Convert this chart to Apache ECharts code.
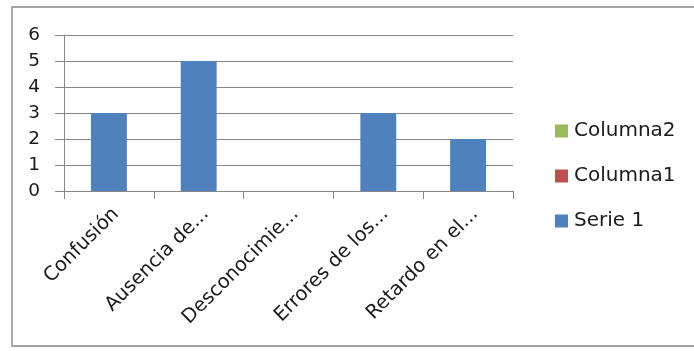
<!DOCTYPE html>
<html>
<head>
<meta charset="utf-8">
<script src="https://cdn.jsdelivr.net/npm/echarts@6/dist/echarts.min.js"></script>
<style>
  html, body { margin: 0; padding: 0; background: #fff; }
  #chart { width: 694px; height: 351px; }
</style>
</head>
<body>
<div id="chart"></div>
<script>
// Categories (labels as shown, already shortened)
const categories = ['Confusión', 'Ausencia de...', 'Desconocimie...', 'Errores de los...', 'Retardo en el...'];
// Series values
const serie1 = [3, 5, 0, 3, 2];
const columna1 = [null, null, null, null, null];
const columna2 = [null, null, null, null, null];
// Value-axis ticks
const yTicks = [0, 1, 2, 3, 4, 5, 6];

const FONT = 'DejaVu Sans';
const TEXT = '#1a1a1a';
const GRID = '#878787';

const chart = echarts.init(document.getElementById('chart'), null, { renderer: 'canvas' });

chart.setOption({
  animation: false,
  backgroundColor: '#ffffff',
  textStyle: { fontFamily: FONT },
  graphic: [{
    type: 'rect',
    shape: { x: 12, y: 7, width: 700, height: 339 },
    style: { fill: 'none', stroke: '#a3a3a3', lineWidth: 1.8 },
    silent: true
  }],
  grid: { left: 64, right: 181, top: 35, bottom: 160 },
  legend: {
    orient: 'vertical',
    left: 555,
    top: 121,
    padding: 0,
    itemWidth: 13,
    itemHeight: 13,
    itemGap: 25,
    icon: 'rect',
    data: ['Columna2', 'Columna1', 'Serie 1'],
    textStyle: { fontFamily: FONT, fontSize: 20, color: TEXT, padding: [0, 0, 0, 1] }
  },
  xAxis: {
    type: 'category',
    data: categories,
    boundaryGap: true,
    axisLine: { show: true, lineStyle: { color: GRID, width: 1 } },
    axisTick: { show: true, length: 8, alignWithLabel: false, lineStyle: { color: GRID } },
    axisLabel: {
      interval: 0,
      rotate: 45,
      margin: 13,
      verticalAlign: 'top',
      fontFamily: FONT,
      fontSize: 19.5,
      color: TEXT
    },
    splitLine: { show: false }
  },
  yAxis: {
    type: 'value',
    min: yTicks[0],
    max: yTicks[yTicks.length - 1],
    interval: 1,
    axisLine: { show: true, lineStyle: { color: GRID, width: 1 } },
    axisTick: { show: true, length: 9, lineStyle: { color: GRID } },
    axisLabel: { margin: 24, fontFamily: FONT, fontSize: 18.5, color: TEXT },
    splitLine: { show: true, lineStyle: { color: GRID, width: 1 } }
  },
  series: [
    { name: 'Serie 1', type: 'bar', stack: 'all', data: serie1, barWidth: '40%', itemStyle: { color: '#4F81BD' } },
    { name: 'Columna1', type: 'bar', stack: 'all', data: columna1, barWidth: '40%', itemStyle: { color: '#C0504D' } },
    { name: 'Columna2', type: 'bar', stack: 'all', data: columna2, barWidth: '40%', itemStyle: { color: '#9BBB59' } }
  ]
});
</script>
</body>
</html>
